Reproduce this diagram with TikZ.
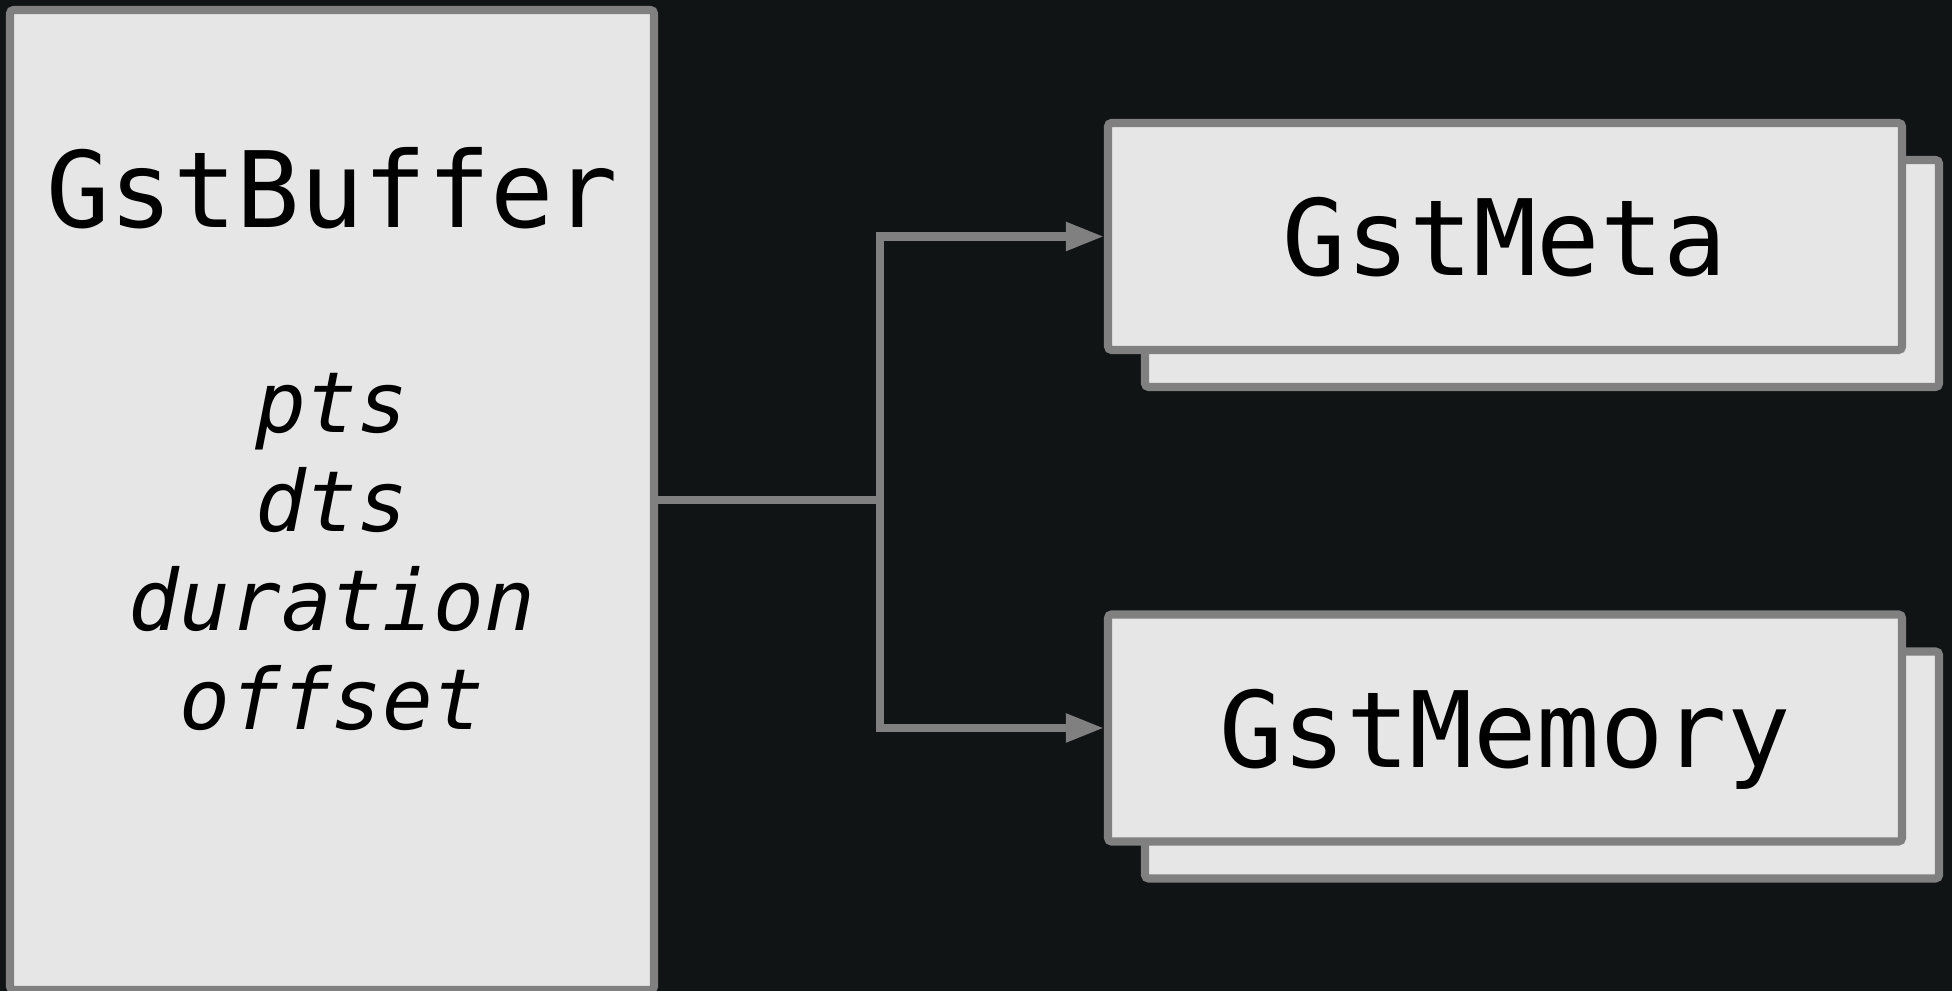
\documentclass[tikz,border=0pt]{standalone}
\usepackage{fontspec}
\setmonofont{DejaVu Sans Mono}
\usepackage{tikz}
\usetikzlibrary{arrows.meta}
\usepackage{xcolor}
\definecolor{bgdark}{HTML}{101414}
\definecolor{cardfill}{HTML}{E6E6E6}
\definecolor{cardedge}{HTML}{808080}

\begin{document}
\begin{tikzpicture}[>={Triangle[length=3.8mm,width=2.7mm]},line width=2.3pt,
  card/.style={draw=cardedge,fill=cardfill,rounded corners=1pt,inner sep=0pt,
    minimum width=7.94cm,minimum height=2.27cm,text depth=0pt,
    font=\ttfamily\fontsize{30}{36}\selectfont},
  link/.style={draw=cardedge}]
\useasboundingbox (0,0) rectangle (19.52,9.91);
\fill[bgdark] (0,0) rectangle (19.52,9.91);
% buffer with its fields
\node[card,minimum width=6.44cm,minimum height=9.80cm] (buffer) at (3.32,4.91) {};
\node[anchor=base,font=\ttfamily\fontsize{30}{36}\selectfont] (buftitle) at (3.32,7.63) {GstBuffer};
\node[anchor=base,align=center,font=\ttfamily\itshape\fontsize{24}{28.2}\selectfont] (buffields) at (3.32,2.61) {pts\\dts\\duration\\offset};
% stacked cards
\node[card] (metaback) at (15.42,7.175) {};
\node[card] (meta) at (15.05,7.545) {GstMeta};
\node[card] (memoryback) at (15.42,2.26) {};
\node[card] (memory) at (15.05,2.63) {GstMemory};
\coordinate (fork) at (8.80,4.91);
\draw[link] (buffer.east) -- (fork);
\draw[link,->] (fork) |- (meta.west);
\draw[link,->] (fork) |- (memory.west);
\end{tikzpicture}
\end{document}
